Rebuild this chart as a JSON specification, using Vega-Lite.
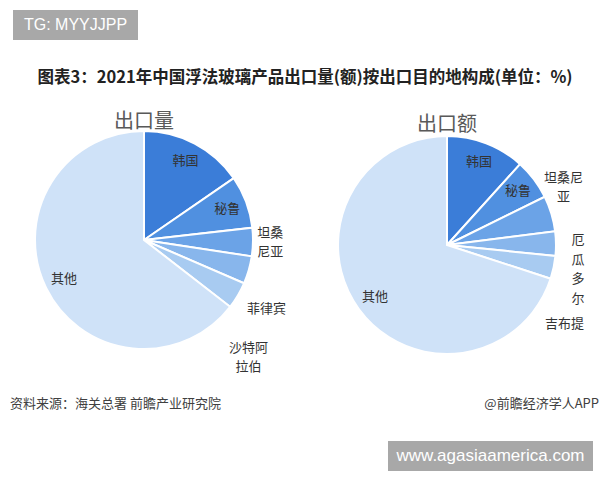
{
  "$schema": "https://vega.github.io/schema/vega-lite/v6.json",
  "background": "white",
  "padding": {"left": 10, "top": 10, "right": 0, "bottom": 0},
  "config": {"view": {"stroke": null}, "font": "Noto Sans CJK SC"},
  "datasets": {
    "vol": [
      {"country": "韩国", "label": "韩国", "value": 15.4, "rank": 1},
      {"country": "秘鲁", "label": "秘鲁", "value": 7.8, "rank": 2},
      {"country": "坦桑尼亚", "label": "坦桑\n尼亚", "value": 4.2, "rank": 3},
      {"country": "菲律宾", "label": "菲律宾", "value": 4.1, "rank": 4},
      {"country": "沙特阿拉伯", "label": "沙特阿\n拉伯", "value": 4.0, "rank": 5},
      {"country": "其他", "label": "其他", "value": 64.5, "rank": 6}
    ],
    "val": [
      {"country": "韩国", "label": "韩国", "value": 11.7, "rank": 1},
      {"country": "秘鲁", "label": "秘鲁", "value": 6.0, "rank": 2},
      {"country": "坦桑尼亚", "label": "坦桑尼\n亚", "value": 5.3, "rank": 3},
      {"country": "厄瓜多尔", "label": "厄\n瓜\n多\n尔", "value": 3.6, "rank": 4},
      {"country": "吉布提", "label": "吉布提", "value": 3.4, "rank": 5},
      {"country": "其他", "label": "其他", "value": 70.0, "rank": 6}
    ]
  },
  "spacing": 10,
  "vconcat": [
    {
      "width": 125, "height": 30,
      "view": {"fill": "#a8a8a8", "stroke": null},
      "data": {"values": [{"t": "TG: MYYJJPP"}]},
      "mark": {"type": "text", "color": "white", "fontSize": 16, "font": "Liberation Sans"},
      "encoding": {"text": {"field": "t"}}
    },
    {
      "width": 584, "height": 52,
      "data": {"values": [{"t": "图表3：2021年中国浮法玻璃产品出口量(额)按出口目的地构成(单位：%)"}]},
      "mark": {"type": "text", "fontSize": 16.5, "fontWeight": "bold", "color": "#222222", "dy": 2},
      "encoding": {"text": {"field": "t"}}
    },
    {
      "spacing": 10,
      "hconcat": [
        {
          "width": 262, "height": 220,
          "title": {"text": "出口量", "fontSize": 20, "color": "#595959", "fontWeight": "normal", "offset": -5, "anchor": "middle"},
          "data": {"name": "vol"},
          "layer": [
            {"mark": {"type": "arc", "outerRadius": 109, "stroke": "white", "strokeWidth": 2},
             "encoding": {
               "theta": {"field": "value", "type": "quantitative", "stack": true, "scale": {"domain": [0, 100]}},
               "order": {"field": "rank", "type": "quantitative"},
               "color": {"field": "rank", "type": "ordinal", "legend": null,
                 "scale": {"domain": [1, 2, 3, 4, 5, 6], "range": ["#3b7dd8", "#5090e0", "#6ba3e7", "#88b6ec", "#a8cbf1", "#cfe2f8"]}}}},
            {"mark": {"type": "text", "radius": 89, "fontSize": 13},
             "encoding": {
               "theta": {"field": "value", "type": "quantitative", "stack": true, "scale": {"domain": [0, 100]}},
               "order": {"field": "rank", "type": "quantitative"},
               "color": {"value": "#333333"},
               "text": {"condition": {"test": "indexof(['韩国','秘鲁','其他'], datum.country) >= 0", "field": "label"}, "value": ""}}},
            {"transform": [{"stack": "value", "groupby": [], "sort": [{"field": "rank", "order": "ascending"}], "as": ["v0", "v1"]}, {"filter": "datum.country === '坦桑尼亚'"}],
             "mark": {"type": "text", "radius": 127, "dy": 7, "fontSize": 13, "lineHeight": 19, "lineBreak": "\n"},
             "encoding": {"theta": {"field": "v0", "type": "quantitative", "scale": {"domain": [0, 100]}}, "color": {"value": "#333333"}, "text": {"field": "label"}}},
            {"transform": [{"stack": "value", "groupby": [], "sort": [{"field": "rank", "order": "ascending"}], "as": ["v0", "v1"]}, {"filter": "datum.country === '菲律宾'"}],
             "mark": {"type": "text", "radius": 124, "dy": 50, "fontSize": 13, "lineHeight": 19, "lineBreak": "\n"},
             "encoding": {"theta": {"field": "v0", "type": "quantitative", "scale": {"domain": [0, 100]}}, "color": {"value": "#333333"}, "text": {"field": "label"}}},
            {"transform": [{"stack": "value", "groupby": [], "sort": [{"field": "rank", "order": "ascending"}], "as": ["v0", "v1"]}, {"filter": "datum.country === '沙特阿拉伯'"}],
             "mark": {"type": "text", "radius": 114, "dy": 63, "fontSize": 13, "lineHeight": 19, "lineBreak": "\n"},
             "encoding": {"theta": {"field": "v0", "type": "quantitative", "scale": {"domain": [0, 100]}}, "color": {"value": "#333333"}, "text": {"field": "label"}}}
          ]
        },
        {
          "width": 300, "height": 230,
          "title": {"text": "出口额", "fontSize": 20, "color": "#595959", "fontWeight": "normal", "offset": -5, "anchor": "middle"},
          "data": {"name": "val"},
          "layer": [
            {"mark": {"type": "arc", "outerRadius": 109, "stroke": "white", "strokeWidth": 2},
             "encoding": {
               "theta": {"field": "value", "type": "quantitative", "stack": true, "scale": {"domain": [0, 100]}},
               "order": {"field": "rank", "type": "quantitative"},
               "color": {"field": "rank", "type": "ordinal", "legend": null,
                 "scale": {"domain": [1, 2, 3, 4, 5, 6], "range": ["#3b7dd8", "#5090e0", "#6ba3e7", "#88b6ec", "#a8cbf1", "#cfe2f8"]}}}},
            {"mark": {"type": "text", "radius": 89, "fontSize": 13},
             "encoding": {
               "theta": {"field": "value", "type": "quantitative", "stack": true, "scale": {"domain": [0, 100]}},
               "order": {"field": "rank", "type": "quantitative"},
               "color": {"value": "#333333"},
               "text": {"condition": {"test": "indexof(['韩国','秘鲁','其他'], datum.country) >= 0", "field": "label"}, "value": ""}}},
            {"transform": [{"stack": "value", "groupby": [], "sort": [{"field": "rank", "order": "ascending"}], "as": ["v0", "v1"]}, {"filter": "datum.country === '坦桑尼亚'"}],
             "mark": {"type": "text", "radius": 130, "dy": -9, "fontSize": 13, "lineHeight": 19, "lineBreak": "\n"},
             "encoding": {"theta": {"field": "v0", "type": "quantitative", "scale": {"domain": [0, 100]}}, "color": {"value": "#333333"}, "text": {"field": "label"}}},
            {"transform": [{"stack": "value", "groupby": [], "sort": [{"field": "rank", "order": "ascending"}], "as": ["v0", "v1"]}, {"filter": "datum.country === '厄瓜多尔'"}],
             "mark": {"type": "text", "radius": 132, "dy": 12, "fontSize": 13, "lineHeight": 19.5, "lineBreak": "\n"},
             "encoding": {"theta": {"field": "v0", "type": "quantitative", "scale": {"domain": [0, 100]}}, "color": {"value": "#333333"}, "text": {"field": "label"}}},
            {"transform": [{"stack": "value", "groupby": [], "sort": [{"field": "rank", "order": "ascending"}], "as": ["v0", "v1"]}, {"filter": "datum.country === '吉布提'"}],
             "mark": {"type": "text", "radius": 118, "dy": 67, "fontSize": 13, "lineHeight": 19, "lineBreak": "\n"},
             "encoding": {"theta": {"field": "v0", "type": "quantitative", "scale": {"domain": [0, 100]}}, "color": {"value": "#333333"}, "text": {"field": "label"}}}
          ]
        }
      ]
    },
    {
      "width": 586, "height": 46,
      "data": {"values": [{"src": "资料来源：海关总署 前瞻产业研究院", "app": "@前瞻经济学人APP"}]},
      "layer": [
        {"mark": {"type": "text", "align": "left", "fontSize": 13, "color": "#404040", "dx": -3, "dy": -4},
         "encoding": {"x": {"value": 0}, "text": {"field": "src"}}},
        {"mark": {"type": "text", "align": "right", "fontSize": 13, "color": "#404040", "dy": -4},
         "encoding": {"x": {"value": "width"}, "text": {"field": "app"}}}
      ]
    },
    {
      "spacing": 0,
      "hconcat": [
        {"width": 375, "height": 30, "data": {"values": [{}]}, "mark": {"type": "text", "text": ""}},
        {
          "width": 205, "height": 30,
          "view": {"fill": "#a8a8a8", "stroke": null},
          "data": {"values": [{"t": "www.agasiaamerica.com"}]},
          "mark": {"type": "text", "color": "white", "fontSize": 17, "font": "Liberation Sans"},
          "encoding": {"text": {"field": "t"}}
        }
      ]
    }
  ]
}
